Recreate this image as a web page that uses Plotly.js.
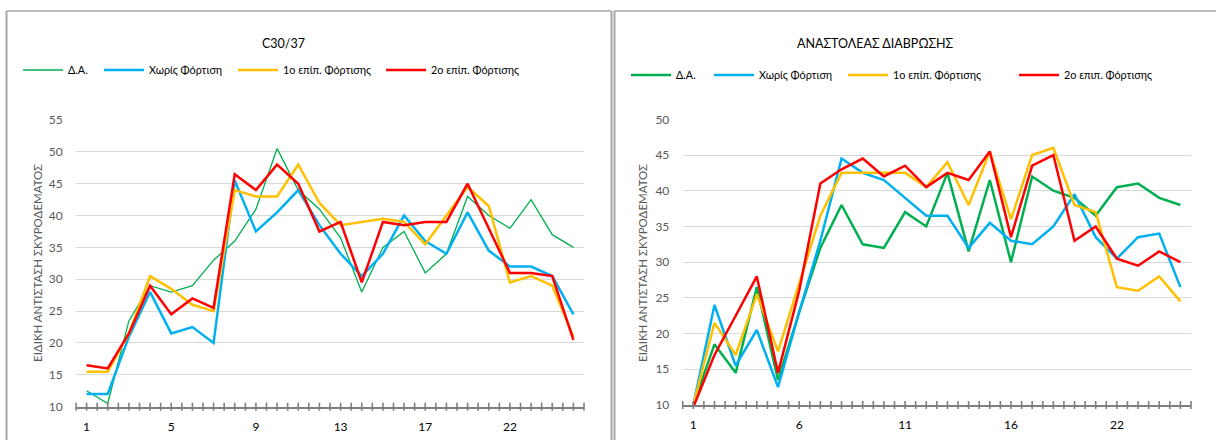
<!DOCTYPE html>
<html>
<head>
<meta charset="utf-8">
<script src="https://cdn.plot.ly/plotly-3.0.1.min.js"></script>
<style>
  html, body { margin: 0; padding: 0; background: #ffffff; }
  #chart { width: 1216px; height: 440px; }
</style>
</head>
<body>
<div id="chart"></div>
<script>
// ---- data ----
const categories = ['1','2','3','4','5','6','7','8','9','10','11','12','13','14','15','16','17','18','19','20','22','23','24','25'];

const leftTitle = 'C30/37';
const rightTitle = 'ΑΝΑΣΤΟΛΕΑΣ ΔΙΑΒΡΩΣΗΣ';
const yTitle = 'ΕΙΔΙΚΗ ΑΝΤΙΣΤΑΣΗ ΣΚΥΡΟΔΕΜΑΤΟΣ';

const leftNames = ['Δ.Α.', 'Χωρίς Φόρτιση', '1ο επίπ. Φόρτισης', '2ο επίπ. Φόρτισης'];
const rightNames = ['Δ.Α.', 'Χωρίς Φόρτιση', '1ο επίπ. Φόρτισης', '2ο επιπ. Φόρτισης'];

const leftDA      = [12.5, 10.5, 23.5, 29, 28, 29, 33, 36, 41, 50.5, 44, 41, 36.5, 28, 35, 37.5, 31, 34, 43, 40, 38, 42.5, 37, 35];
const leftNoLoad  = [12, 12, 21, 28, 21.5, 22.5, 20, 45.5, 37.5, 40.5, 44, 38.5, 34, 30.5, 34, 40, 36, 34, 40.5, 34.5, 32, 32, 30.5, 24.5];
const leftLoad1   = [15.5, 15.5, 21.5, 30.5, 28.5, 26, 25, 44, 43, 43, 48, 42, 38.5, 39, 39.5, 39, 35.5, 40, 44.5, 41.5, 29.5, 30.5, 29, 21];
const leftLoad2   = [16.5, 16, 21.5, 29, 24.5, 27, 25.5, 46.5, 44, 48, 45, 37.5, 39, 29.5, 39, 38.5, 39, 39, 45, 38, 31, 31, 30.5, 20.5];

const rightDA     = [10, 18.5, 14.5, 26.5, 13.5, 23, 32, 38, 32.5, 32, 37, 35, 42.5, 31.5, 41.5, 30, 42, 40, 39, 36.5, 40.5, 41, 39, 38];
const rightNoLoad = [10, 24, 15.5, 20.5, 12.5, 23, 33, 44.5, 42.5, 41.5, 39, 36.5, 36.5, 32, 35.5, 33, 32.5, 35, 39.5, 33.5, 30.5, 33.5, 34, 26.5];
const rightLoad1  = [10, 21.5, 17, 25.5, 17.5, 27, 36.5, 42.5, 42.5, 42.5, 42.5, 40.5, 44, 38, 45.5, 36, 45, 46, 38, 37, 26.5, 26, 28, 24.5];
const rightLoad2  = [9.7, 17, 22.5, 28, 14.5, 26, 41, 43, 44.5, 42, 43.5, 40.5, 42.5, 41.5, 45.5, 33.5, 43.5, 45, 33, 35, 30.5, 29.5, 31.5, 30];

const leftTicks  = ['1', '5', '9', '13', '17', '22'];
const rightTicks = ['1', '6', '11', '16', '22'];
const leftYRange  = [10, 55];
const rightYRange = [10, 50];

// ---- styles ----
const FONT = 'Lato, "Open Sans", "Noto Sans", sans-serif';
const colors = ['#00B050', '#00B0F0', '#FFC000', '#FF0000'];
const leftWidths = [1.3, 2.5, 2.5, 2.5];
const rightWidths = [2.5, 2.5, 2.5, 2.5];

const W = 1216, H = 440;
const px = v => v / W;
const py = v => 1 - v / H;

// legend text start positions (px) for each entry
const leftLegendX  = [68, 149, 283, 431];
const rightLegendX = [676, 759, 893, 1064];
const LEG_OFFSET = 50;

const leftSeries = [leftDA, leftNoLoad, leftLoad1, leftLoad2];
const rightSeries = [rightDA, rightNoLoad, rightLoad1, rightLoad2];

const traces = [];
leftSeries.forEach((ys, i) => {
  traces.push({
    type: 'scatter', mode: 'lines', x: categories, y: ys, name: leftNames[i],
    xaxis: 'x', yaxis: 'y', legend: i === 0 ? 'legend' : 'legend' + (i + 1),
    line: { color: colors[i], width: leftWidths[i] },
    hoverinfo: 'x+y+name'
  });
});
rightSeries.forEach((ys, i) => {
  traces.push({
    type: 'scatter', mode: 'lines', x: categories, y: ys, name: rightNames[i],
    xaxis: 'x2', yaxis: 'y2', legend: 'legend' + (i + 5),
    line: { color: colors[i], width: rightWidths[i] },
    hoverinfo: 'x+y+name'
  });
});

const n = categories.length;
const catRange = [-0.5, n - 0.5];

const gridColor = '#D9D9D9';
const axisColor = '#7F7F7F';
const textColor = '#595959';

function yAxis(range, domain, anchor) {
  return {
    range: range, domain: domain, anchor: anchor, dtick: 5, tick0: 0,
    showgrid: true, gridcolor: gridColor, gridwidth: 1.3,
    zeroline: false, showline: false,
    ticks: 'outside', ticklen: 10, tickcolor: 'rgba(0,0,0,0)',
    tickfont: { family: FONT, size: 12, color: textColor },
    fixedrange: true
  };
}
function xAxis(domain, anchor, tickvals) {
  return {
    type: 'category', range: catRange, domain: domain, anchor: anchor,
    tickmode: 'array', tickvals: tickvals, ticktext: tickvals,
    ticks: 'outside', ticklen: 8, tickcolor: 'rgba(0,0,0,0)',
    showgrid: false, zeroline: false,
    showline: true, linecolor: axisColor, linewidth: 1.5,
    tickfont: { family: FONT, size: 12, color: '#000000' },
    fixedrange: true
  };
}

const xdL = [px(76), px(584)];
const xdR = [px(682.7), px(1191)];
const ydL = [1 - 406.7 / H, 1 - 120 / H];
const ydR = [1 - 405 / H, 1 - 119.3 / H];

const borderColor = '#A6A6A6';
const shapes = [
  // left chart frame
  { type: 'line', xref: 'paper', yref: 'paper', x0: px(6.5), x1: px(6.5), y0: 0, y1: py(11), line: { color: borderColor, width: 2 } },
  { type: 'line', xref: 'paper', yref: 'paper', x0: px(6.5), x1: px(611.5), y0: py(11), y1: py(11), line: { color: borderColor, width: 1.5 } },
  { type: 'line', xref: 'paper', yref: 'paper', x0: px(611.5), x1: px(611.5), y0: 0, y1: py(11), line: { color: borderColor, width: 2 } },
  // right chart frame
  { type: 'line', xref: 'paper', yref: 'paper', x0: px(614.5), x1: px(614.5), y0: 0, y1: py(11), line: { color: borderColor, width: 2 } },
  { type: 'line', xref: 'paper', yref: 'paper', x0: px(614.5), x1: 1, y0: py(11), y1: py(11), line: { color: borderColor, width: 1.5 } }
];
// crossing tick marks on the category axes, every half category (Excel style)
function addAxisTicks(xDomain, yDomain) {
  const half = 4 / H;
  for (let k = 0; k <= 2 * n; k++) {
    const f = xDomain[0] + (xDomain[1] - xDomain[0]) * k / (2 * n);
    shapes.push({
      type: 'line', xref: 'paper', yref: 'paper',
      x0: f, x1: f, y0: yDomain[0] - half, y1: yDomain[0] + half,
      line: { color: axisColor, width: 1.6 }, layer: 'above'
    });
  }
}
addAxisTicks(xdL, ydL);
addAxisTicks(xdR, ydR);

const legendCommon = {
  orientation: 'h', xanchor: 'left', yanchor: 'middle',
  font: { family: FONT, size: 10.8, color: '#000000' },
  bgcolor: 'rgba(0,0,0,0)', borderwidth: 0, itemwidth: 40,
  itemclick: false, itemdoubleclick: false
};

const layout = {
  width: W, height: H,
  margin: { l: 0, r: 0, t: 0, b: 0 },
  paper_bgcolor: '#FFFFFF', plot_bgcolor: 'rgba(0,0,0,0)',
  showlegend: true,
  font: { family: FONT, color: '#000000' },
  xaxis: xAxis(xdL, 'y', leftTicks),
  yaxis: yAxis(leftYRange, ydL, 'x'),
  xaxis2: xAxis(xdR, 'y2', rightTicks),
  yaxis2: yAxis(rightYRange, ydR, 'x2'),
  annotations: [
    { text: leftTitle, xref: 'paper', yref: 'paper', x: px(283), y: py(43), xanchor: 'center', yanchor: 'middle', showarrow: false, font: { family: FONT, size: 12.5, color: '#000000' } },
    { text: rightTitle, xref: 'paper', yref: 'paper', x: px(875), y: py(43), xanchor: 'center', yanchor: 'middle', showarrow: false, font: { family: FONT, size: 12.5, color: '#000000' } },
    { text: yTitle, xref: 'paper', yref: 'paper', x: px(37), y: py(263), xanchor: 'center', yanchor: 'middle', textangle: -90, showarrow: false, font: { family: FONT, size: 11.5, color: textColor } },
    { text: yTitle, xref: 'paper', yref: 'paper', x: px(642), y: py(263), xanchor: 'center', yanchor: 'middle', textangle: -90, showarrow: false, font: { family: FONT, size: 11.5, color: textColor } }
  ],
  shapes: shapes,
  hovermode: 'closest'
};
leftLegendX.forEach((x, i) => {
  layout[i === 0 ? 'legend' : 'legend' + (i + 1)] = Object.assign({}, legendCommon, { x: px(x - LEG_OFFSET), y: py(70) });
});
rightLegendX.forEach((x, i) => {
  layout['legend' + (i + 5)] = Object.assign({}, legendCommon, { x: px(x - LEG_OFFSET), y: py(75) });
});

Plotly.newPlot('chart', traces, layout, { displayModeBar: false, responsive: false });
</script>
</body>
</html>
